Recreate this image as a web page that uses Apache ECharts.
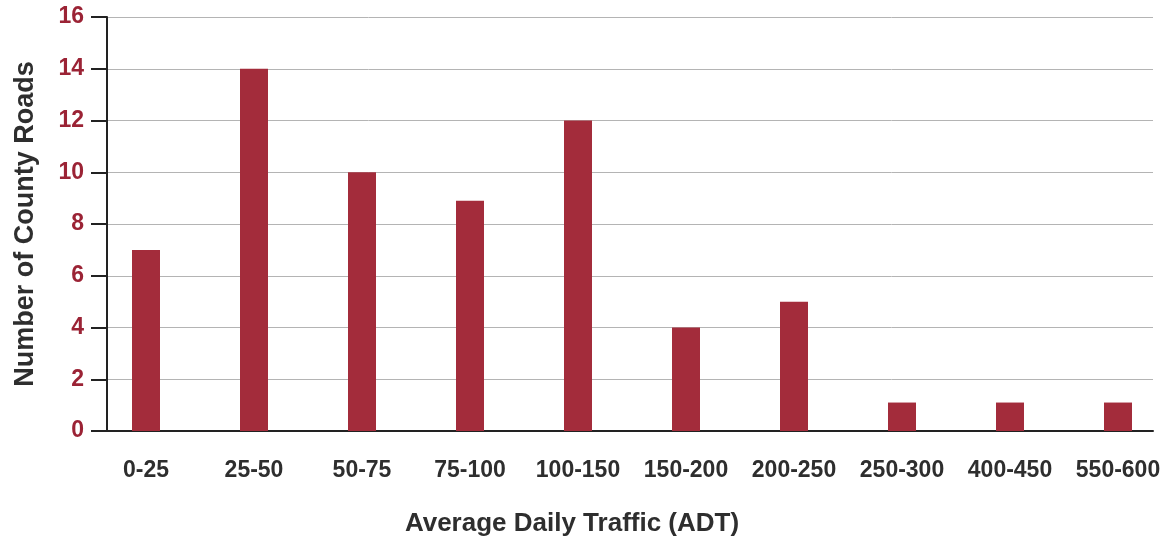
<!DOCTYPE html>
<html>
<head>
<meta charset="utf-8">
<script src="https://cdn.jsdelivr.net/npm/echarts@6/dist/echarts.min.js"></script>
<style>
html, body { margin: 0; padding: 0; background: #fff; }
#chart { width: 1172px; height: 537px; }
</style>
</head>
<body>
<div id="chart"></div>
<script>
// data
var categories = ['0-25', '25-50', '50-75', '75-100', '100-150', '150-200', '200-250', '250-300', '400-450', '550-600'];
var roadCounts = [7, 14, 10, 8.9, 12, 4, 5, 1.1, 1.1, 1.1];

var barColor = '#a32c3b';
var labelRed = '#9b2335';
var darkText = '#2e2e2e';
var font = 'Liberation Sans, Arial, sans-serif';

var myChart = echarts.init(document.getElementById('chart'));
var option = {
  backgroundColor: '#fff',
  animation: false,
  // x axis title sits a bit left of the plot centre in the original
  title: {
    text: 'Average Daily Traffic (ADT)',
    left: 567, top: 506, textAlign: 'center',
    textStyle: { color: darkText, fontSize: 26, fontWeight: 'bold', fontFamily: font }
  },
  grid: [
    // axis frame + split lines
    { left: 107, right: 19, top: 17, bottom: 106 },
    // bars (categories spaced a bit wider than the frame)
    { left: 92, width: 1085, top: 17, bottom: 106 }
  ],
  xAxis: [
    {
      gridIndex: 0, type: 'value', min: 0, max: 1,
      axisLine: { show: true, onZero: false, lineStyle: { color: '#222', width: 2 } },
      axisTick: { show: false }, axisLabel: { show: false }, splitLine: { show: false }
    },
    {
      gridIndex: 1, type: 'category', data: categories,
      axisLine: { show: false }, axisTick: { show: false },
      axisLabel: { interval: 0, margin: 28, color: darkText, fontSize: 23, fontWeight: 'bold', fontFamily: font }
    }
  ],
  yAxis: [
    {
      gridIndex: 0, type: 'value', min: 0, max: 16, interval: 2,
      axisLine: { show: true, lineStyle: { color: '#222', width: 2 } },
      axisTick: { show: true, length: 16, lineStyle: { color: '#222', width: 2 } },
      axisLabel: { margin: 23, color: labelRed, fontSize: 23, fontWeight: 'bold', fontFamily: font },
      splitLine: { show: true, lineStyle: { color: '#b4b4b4', width: 1 } },
      name: 'Number of County Roads',
      nameLocation: 'middle', nameGap: 68, nameRotate: 90,
      nameTextStyle: { color: darkText, fontSize: 27, fontWeight: 'bold', fontFamily: font }
    },
    {
      gridIndex: 1, type: 'value', min: 0, max: 16, interval: 2, show: false
    }
  ],
  series: [{
    type: 'bar',
    xAxisIndex: 1, yAxisIndex: 1,
    data: roadCounts,
    barWidth: 28,
    itemStyle: { color: barColor },
    z: 3
  }]
};
myChart.setOption(option);
</script>
</body>
</html>
